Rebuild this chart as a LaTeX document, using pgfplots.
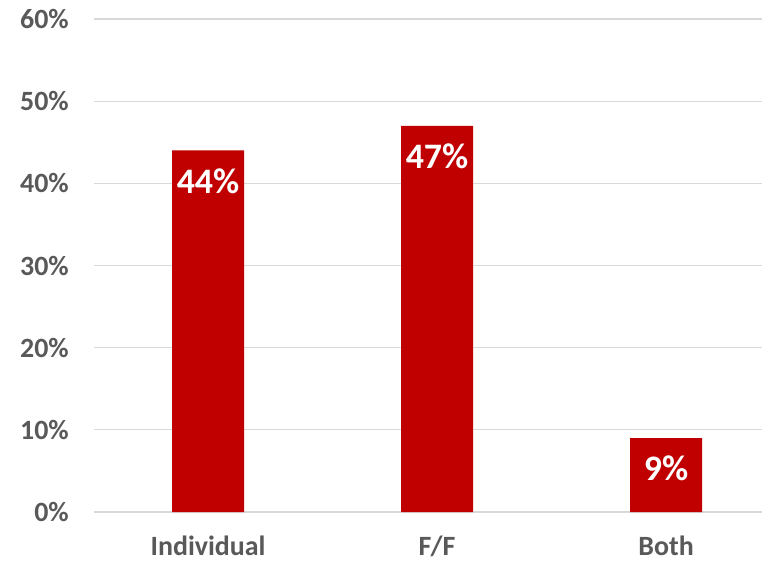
\documentclass[border=0pt]{standalone}
\usepackage{fontspec}
\setmainfont{Carlito}
\usepackage{pgfplots}
\pgfplotsset{compat=1.18}
\definecolor{barred}{HTML}{C00000}
\definecolor{txtgray}{HTML}{595959}
\definecolor{gridgray}{HTML}{D9D9D9}
\begin{document}
\begin{tikzpicture}
\useasboundingbox (-94bp,-49bp) rectangle (668bp,512bp);
\begin{axis}[
    at={(0,0)}, anchor=south west,
    scale only axis, width=668bp, height=493bp,
    xmin=-0.498, xmax=2.419,
    ymin=0, ymax=60,
    axis line style={draw=none},
    major tick length=0pt,
    ymajorgrids=true,
    grid style={gridgray, line width=1.3bp},
    ytick={0,10,20,30,40,50,60},
    yticklabel={\pgfmathprintnumber{\tick}\%},
    xtick={0,1,2},
    xticklabels={Individual,F/F,Both},
    /pgf/number format/assume math mode=true,
    ticklabel style={font=\fontsize{28}{34}\selectfont\bfseries, text=txtgray, inner sep=0pt},
    yticklabel style={xshift=-25bp},
    xticklabel style={anchor=north, yshift=-24bp},
    ybar, bar width=72bp,
    nodes near coords={\pgfmathprintnumber{\pgfplotspointmeta}\%},
    every node near coord/.append style={anchor=north, yshift=-18bp, inner sep=0pt,
        font=\fontsize{36}{42}\selectfont\bfseries, text=white},
]
\addplot[fill=barred, draw=none] coordinates {(0,44) (1,47) (2,9)};
\end{axis}
\end{tikzpicture}
\end{document}
